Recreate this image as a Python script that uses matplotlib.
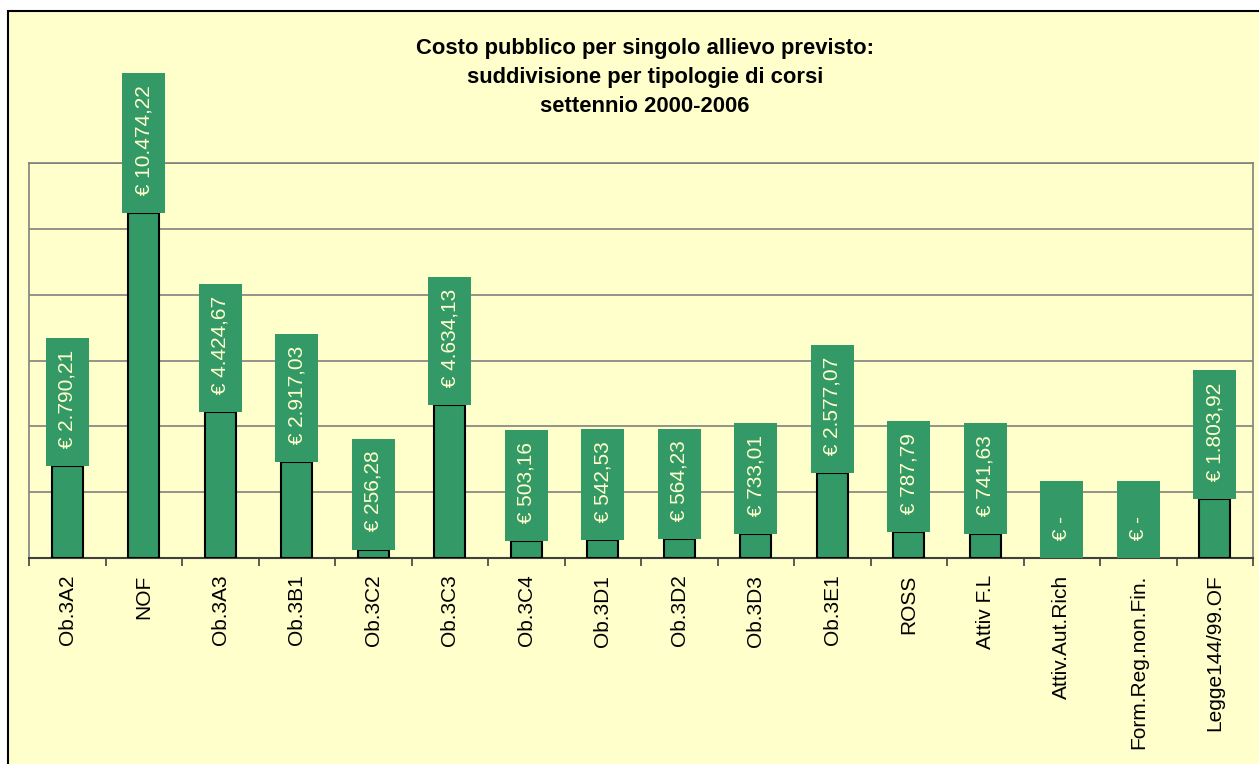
import matplotlib.pyplot as plt
from matplotlib.patches import Rectangle

categories = ["Ob.3A2", "NOF", "Ob.3A3", "Ob.3B1", "Ob.3C2", "Ob.3C3", "Ob.3C4",
              "Ob.3D1", "Ob.3D2", "Ob.3D3", "Ob.3E1", "ROSS", "Attiv F.L",
              "Attiv.Aut.Rich", "Form.Reg.non.Fin.", "Legge144/99.OF"]
costs = [2790.21, 10474.22, 4424.67, 2917.03, 256.28, 4634.13, 503.16,
         542.53, 564.23, 733.01, 2577.07, 787.79, 741.63, 0, 0, 1803.92]

title = ("Costo pubblico per singolo allievo previsto:\n"
         "suddivisione per tipologie di corsi\n"
         "settennio 2000-2006")

GREEN = "#339966"
CREAM = "#FFFFCC"
GREY = "#808080"

plt.rcParams['font.family'] = ['Liberation Sans', 'DejaVu Sans']


def euro(v):
    """ Excel accounting style, Italian separators """
    if v == 0:
        return " € -    "
    s = f"{v:,.2f}".replace(",", "X").replace(".", ",").replace("X", ".")
    return " € " + s


fig = plt.figure(figsize=(12.59, 7.64), dpi=100, facecolor="white")
# outer chart frame, cut off on the right and bottom like the original
fig.patches.append(Rectangle((8 / 1259, -0.05), 1.2, (764 - 11) / 764 + 0.05,
                             transform=fig.transFigure, facecolor=CREAM,
                             edgecolor="black", linewidth=1.5, zorder=-1))

ax = fig.add_axes([29 / 1259, 206 / 764, (1253 - 29) / 1259, (558 - 163) / 764])
ax.set_facecolor(CREAM)

x = list(range(len(categories)))
ax.bar(x, costs, width=0.4, color=GREEN, edgecolor="black", linewidth=1.5, zorder=3)

pad_frac = 0.58
fs = 15
for xi, v in zip(x, costs):
    ax.annotate(euro(v), (xi, v), xytext=(0, pad_frac * fs), textcoords="offset points",
                rotation=90, ha="center", va="bottom", fontsize=fs, color=CREAM,
                zorder=4,
                bbox=dict(boxstyle=f"square,pad={pad_frac}", facecolor=GREEN,
                          edgecolor="none"))

ax.set_xlim(-0.5, len(categories) - 0.5)
ax.set_ylim(0, 12000)
ax.set_yticks(range(0, 12001, 2000))
ax.set_yticklabels([])
ax.tick_params(axis="y", length=0)
ax.grid(axis="y", color=GREY, linewidth=1.2, zorder=0)

ax.set_xticks(x)
ax.set_xticklabels(categories, rotation=90, fontsize=15)
ax.tick_params(axis="x", which="major", length=0, pad=12)
ax.set_xticks([i + 0.5 for i in range(-1, len(categories))], minor=True)
ax.tick_params(axis="x", which="minor", length=6, width=1.2, color="#404040", direction="out")

for side in ["left", "top", "right"]:
    ax.spines[side].set_color(GREY)
    ax.spines[side].set_linewidth(1.2)
ax.spines["bottom"].set_color("#404040")
ax.spines["bottom"].set_linewidth(1.5)

fig.text(645 / 1259, 1 - 38 / 764, title, ha="center", va="top", fontsize=15.8,
         fontweight="bold", linespacing=1.5)

fig.savefig("out.png", dpi=100, facecolor=fig.get_facecolor())
